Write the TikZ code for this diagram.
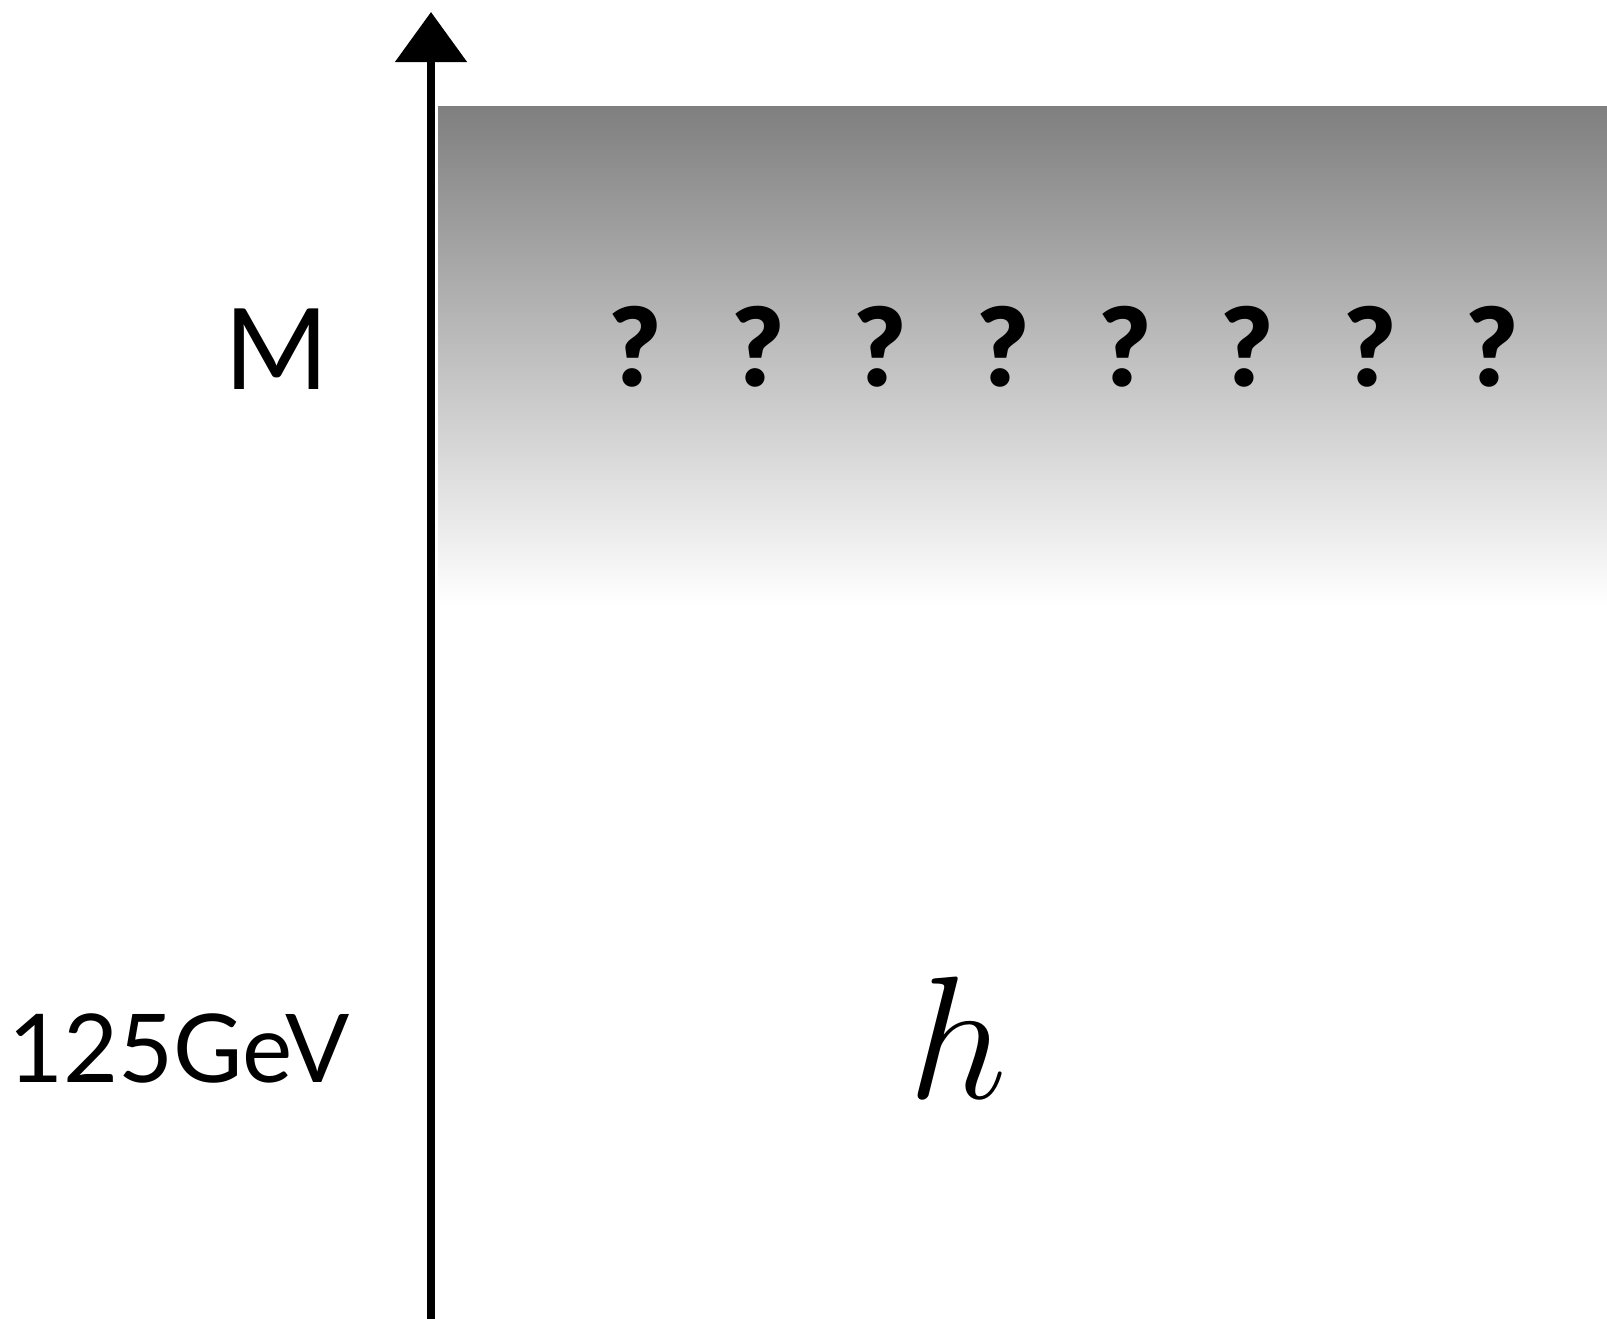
\documentclass[tikz,border=0pt]{standalone}
\usepackage{fontspec}
\newfontfamily\labelfont{Lato}
\newfontfamily\heavyfont{Lato Black}
\usetikzlibrary{arrows.meta, positioning}

\begin{document}
\begin{tikzpicture}[
        x=0.01cm, y=0.01cm,
        scalelabel/.style={font=\labelfont\fontsize{34}{40}\selectfont, anchor=base, inner sep=0pt},
        unknown/.style={font=\heavyfont\fontsize{31}{36}\selectfont, anchor=base, inner sep=0pt},
        axis/.style={-{Triangle[length=0.5cm, width=0.7cm]}, line width=0.085cm, black}
    ]
        \useasboundingbox (0,0) rectangle (1607,1319);

        % region of new physics
        \shade[top color=black!50, bottom color=white, shading angle=0] (438,714) rectangle (1607,1212);

        % energy axis
        \coordinate (axisbot) at (431,0);
        \coordinate (axistop) at (431,1307);
        \draw[axis] (axisbot) -- (axistop);

        \node[scalelabel, font=\labelfont\fontsize{32}{38}\selectfont] (lblM) at (277,929) {M};
        \node[scalelabel, font=\labelfont\fontsize{27}{32}\selectfont] (lblEW) at (179,236) {125GeV};

        \foreach \i in {0,...,7}
            \node[unknown] (q\i) at (635.5+122.4*\i,932) {?};

        \node[anchor=base, inner sep=0pt, scale=2, font=\fontsize{24}{28}\selectfont] (higgs) at (958,220) {$h$};
    \end{tikzpicture}
\end{document}
